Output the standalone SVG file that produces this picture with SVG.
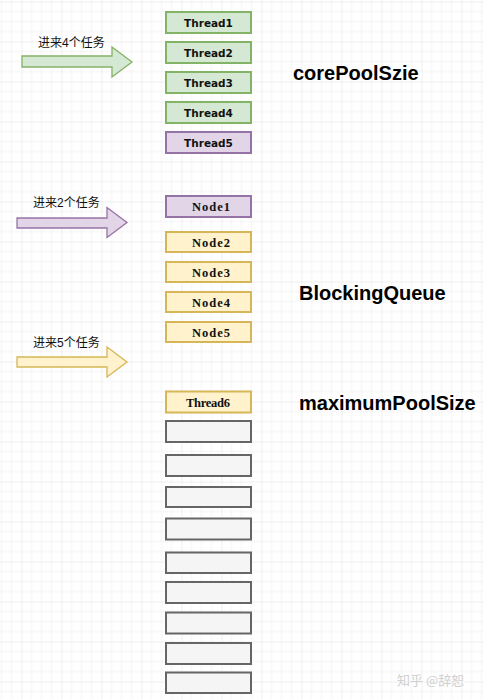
<svg xmlns="http://www.w3.org/2000/svg" width="484" height="699" viewBox="0 0 484 699">
<defs>
<pattern id="grid" width="40" height="40" patternUnits="userSpaceOnUse" patternTransform="translate(21.5,1.5)">
<path d="M10 0V40M20 0V40M30 0V40M0 10H40M0 20H40M0 30H40" stroke="#f2f2f2" stroke-width="1" fill="none"/>
<path d="M0 0V40M0 0H40" stroke="#e0e0e0" stroke-width="1" fill="none"/>
</pattern>
<style>
.g{fill:#d5e8d4;stroke:#82b366;stroke-width:2}
.p{fill:#e1d5e7;stroke:#9673a6;stroke-width:2}
.y{fill:#fff2cc;stroke:#d6b656;stroke-width:2}
.e{fill:#f5f5f5;stroke:#666666;stroke-width:2}
.ga{fill:#d5e8d4;stroke:#82b366;stroke-width:1.3}
.pa{fill:#e1d5e7;stroke:#9673a6;stroke-width:1.3}
.ya{fill:#fff2cc;stroke:#d6b656;stroke-width:1.3}
.tt{font-family:"DejaVu Sans",sans-serif;font-weight:bold;font-size:10.5px;fill:#111;text-anchor:middle}
.nt{font-family:"Liberation Serif","DejaVu Serif",serif;font-weight:bold;font-size:12.5px;fill:#111;text-anchor:middle}
.cl{font-family:"Liberation Sans","Noto Sans CJK SC",sans-serif;font-size:12px;fill:#111}
.big{font-family:"Liberation Sans",Arial,sans-serif;font-weight:bold;font-size:20px;fill:#000}
</style>
</defs>
<rect width="484" height="699" fill="#ffffff"/>
<rect width="484" height="699" fill="url(#grid)"/>

<g id="arrows">
<g id="arrow1"><polygon class="ga" points="22,56 112,56 112,47 132,62 112,77 112,67 22,67"/><text class="cl" x="38" y="47">进来4个任务</text></g>
<g id="arrow2"><polygon class="pa" points="17,218 107,218 107,207.5 127,222.5 107,237.5 107,228 17,228"/><text class="cl" x="33" y="207">进来2个任务</text></g>
<g id="arrow3"><polygon class="ya" points="17,357 107,357 107,347 127,362 107,377 107,367 17,367"/><text class="cl" x="33" y="347">进来5个任务</text></g>
</g>

<g id="thread1"><rect class="g" x="166" y="12" width="85" height="21"/><text class="tt" x="208.5" y="26.5">Thread1</text></g>
<g id="thread2"><rect class="g" x="166" y="42" width="85" height="21"/><text class="tt" x="208.5" y="56.5">Thread2</text></g>
<g id="thread3"><rect class="g" x="166" y="72" width="85" height="21"/><text class="tt" x="208.5" y="86.5">Thread3</text></g>
<g id="thread4"><rect class="g" x="166" y="102" width="85" height="21"/><text class="tt" x="208.5" y="116.5">Thread4</text></g>
<g id="thread5"><rect class="p" x="166" y="132" width="85" height="21"/><text class="tt" x="208.5" y="146.5">Thread5</text></g>

<g id="node1"><rect class="p" x="166" y="196" width="85" height="21"/><text class="nt" x="211" y="211" textLength="38">Node1</text></g>
<g id="node2"><rect class="y" x="166" y="232" width="85" height="20"/><text class="nt" x="211" y="246.5" textLength="38">Node2</text></g>
<g id="node3"><rect class="y" x="166" y="262" width="85" height="20"/><text class="nt" x="211" y="276.5" textLength="38">Node3</text></g>
<g id="node4"><rect class="y" x="166" y="292" width="85" height="20"/><text class="nt" x="211" y="306.5" textLength="38">Node4</text></g>
<g id="node5"><rect class="y" x="166" y="322" width="85" height="20"/><text class="nt" x="211" y="336.5" textLength="38">Node5</text></g>

<g id="thread6"><rect class="y" x="166" y="391.5" width="85" height="21"/><text class="nt" x="208" y="406.5" textLength="44">Thread6</text></g>
<g id="empty1"><rect class="e" x="166" y="421" width="85" height="21"/></g>
<g id="empty2"><rect class="e" x="166" y="455" width="85" height="21"/></g>
<g id="empty3"><rect class="e" x="166" y="487" width="85" height="20"/></g>
<g id="empty4"><rect class="e" x="166" y="518.5" width="85" height="21"/></g>
<g id="empty5"><rect class="e" x="166" y="552.5" width="85" height="20.5"/></g>
<g id="empty6"><rect class="e" x="166" y="582" width="85" height="21"/></g>
<g id="empty7"><rect class="e" x="166" y="612.5" width="85" height="21"/></g>
<g id="empty8"><rect class="e" x="166" y="643" width="85" height="21"/></g>
<g id="empty9"><rect class="e" x="166" y="672.5" width="85" height="20.5"/></g>

<g id="labels">
<text class="big" x="293" y="80">corePoolSzie</text>
<text class="big" x="299" y="300">BlockingQueue</text>
<text class="big" x="299" y="410" font-size="19">maximumPoolSize</text>
</g>
<text x="397" y="685" font-family="'Noto Sans CJK SC',sans-serif" font-size="13" fill="#d0d0d0">知乎 @辞恕</text>
</svg>
